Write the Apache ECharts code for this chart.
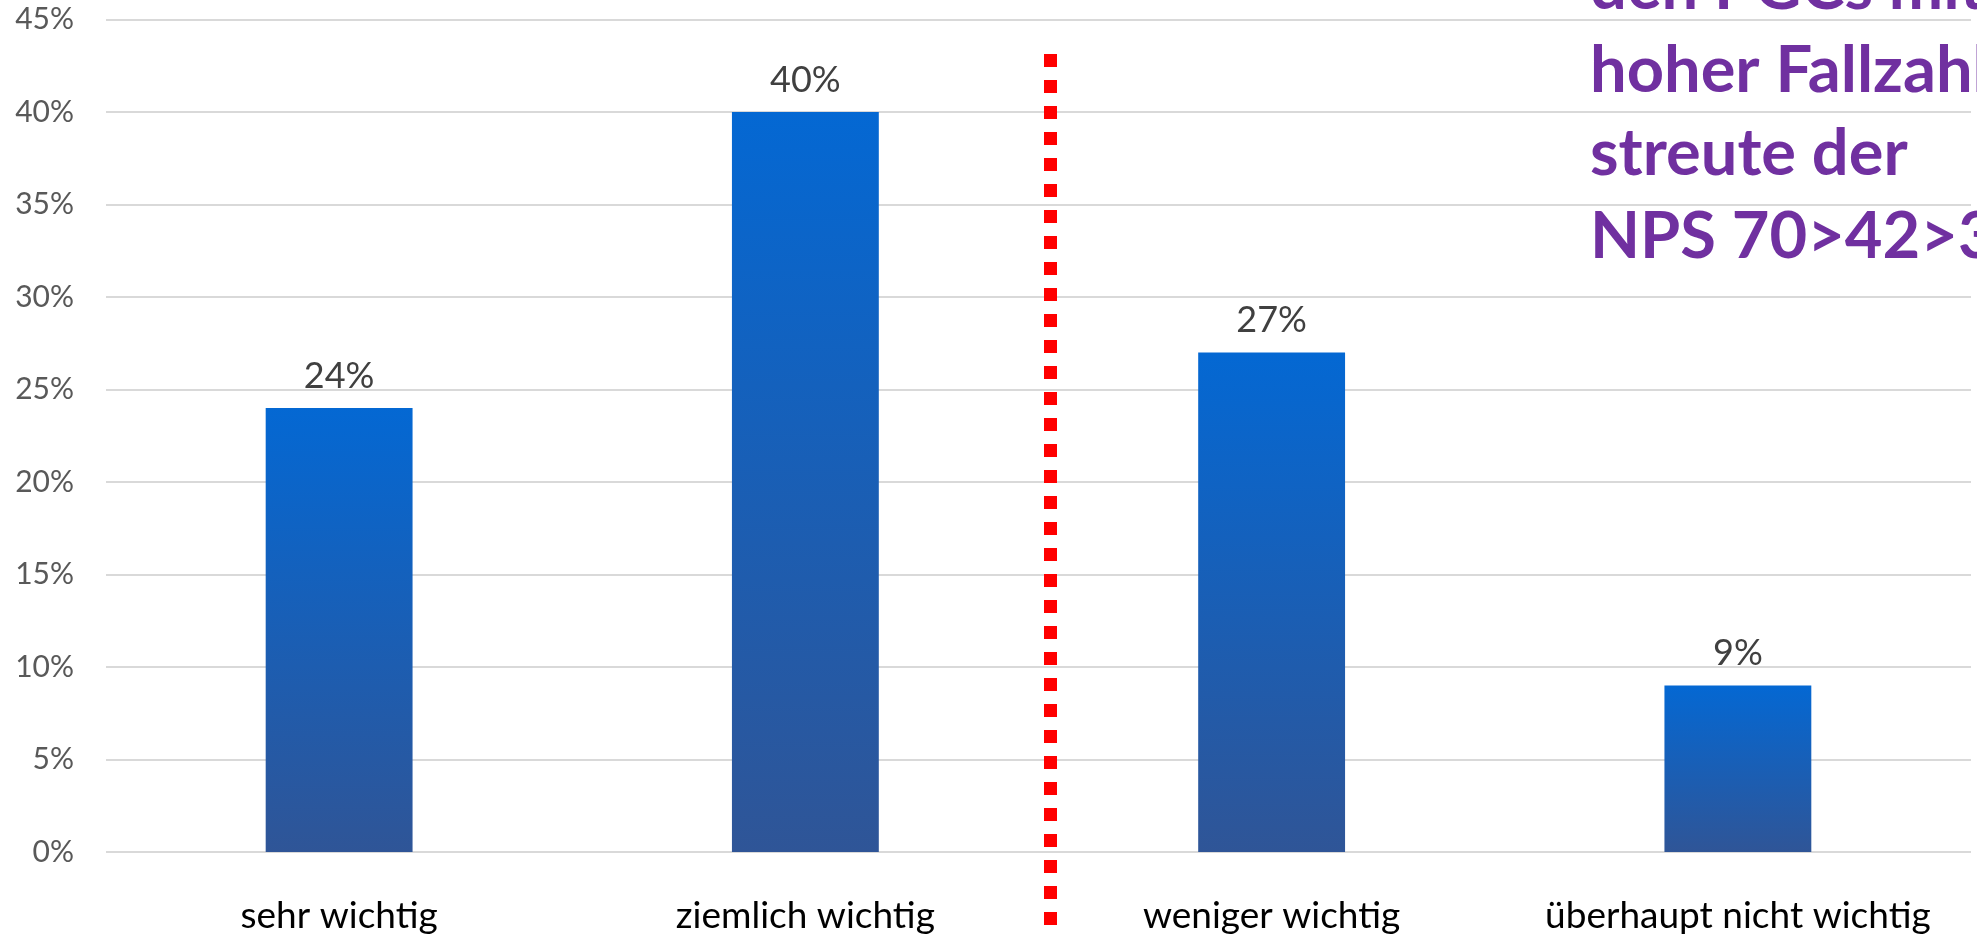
<!DOCTYPE html>
<html>
<head>
<meta charset="utf-8">
<script src="https://cdn.jsdelivr.net/npm/echarts@6/dist/echarts.min.js"></script>
<style>
  html, body { margin: 0; padding: 0; background: #fff; }
  #chart { width: 1977px; height: 937px; }
</style>
</head>
<body>
<div id="chart"></div>
<script>
// Wichtigkeit - Anteile in %
const categories = ["sehr wichtig", "ziemlich wichtig", "weniger wichtig", "überhaupt nicht wichtig"];
const shares = [24, 40, 27, 9];
const noteLines = ["den PGCs mit", "hoher Fallzahl", "streute der", "NPS 70>42>30"];

const labelFont = "Lato, 'Noto Sans', sans-serif";

const chart = echarts.init(document.getElementById("chart"));

const option = {
  animation: false,
  grid: { left: 106, right: 6, top: 19.5, bottom: 85, containLabel: false },
  xAxis: {
    type: "category",
    data: categories,
    axisLine: { show: false },
    axisTick: { show: false },
    axisLabel: { interval: 0, color: "#000", fontSize: 37, fontFamily: labelFont, margin: 46 }
  },
  yAxis: {
    type: "value",
    min: 0,
    max: 45,
    interval: 5,
    axisLine: { show: false },
    axisTick: { show: false },
    axisLabel: {
      color: "#595959",
      fontSize: 30,
      fontFamily: labelFont,
      margin: 32,
      formatter: "{value}%"
    },
    splitLine: { lineStyle: { color: "#d9d9d9", width: 2 } }
  },
  series: [
    {
      type: "bar",
      data: shares,
      barWidth: "31.5%",
      itemStyle: {
        color: new echarts.graphic.LinearGradient(0, 0, 0, 1, [
          { offset: 0, color: "#0468d3" },
          { offset: 1, color: "#2f5597" }
        ])
      },
      label: {
        show: true,
        position: "top",
        distance: 14,
        color: "#404040",
        fontSize: 36,
        fontFamily: labelFont,
        formatter: "{c}%"
      }
    }
  ]
};

chart.setOption(option);

// rote gepunktete Trennlinie zwischen "ziemlich" und "weniger wichtig"
const x1 = chart.convertToPixel({ xAxisIndex: 0 }, categories[1]);
const x2 = chart.convertToPixel({ xAxisIndex: 0 }, categories[2]);
const sepX = (x1 + x2) / 2 + 12;

chart.setOption({
  graphic: [
    {
      type: "line",
      shape: { x1: sepX, y1: 54, x2: sepX, y2: 930 },
      style: { stroke: "#ff0000", lineWidth: 13, lineDash: [13, 13], lineCap: "butt" },
      z: 10
    },
    {
      type: "text",
      left: 1590,
      top: -53,
      style: {
        text: noteLines.join("\n"),
        fill: "#7030a0",
        font: "bold 65px Lato, 'Noto Sans', sans-serif",
        lineHeight: 83
      },
      z: 10
    }
  ]
});
</script>
</body>
</html>
